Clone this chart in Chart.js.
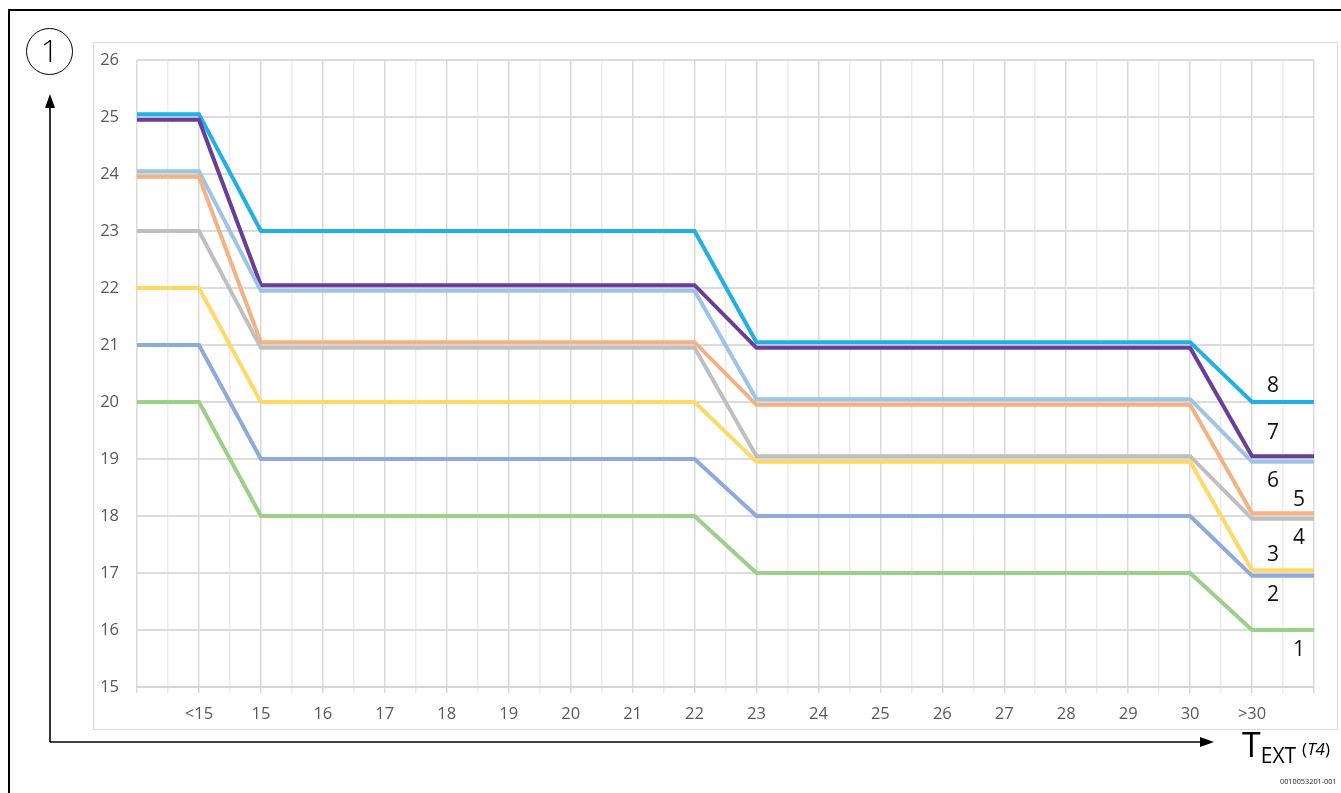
<!DOCTYPE html>
<html>
<head>
<meta charset="utf-8">
<script src="https://cdn.jsdelivr.net/npm/chart.js@4/dist/chart.umd.min.js"></script>
<style>
  html, body { margin: 0; padding: 0; background: #fff; }
  body { width: 1341px; height: 793px; position: relative; overflow: hidden; font-family: "Open Sans", "Noto Sans", sans-serif; }
  #frame-top { position: absolute; left: 8px; top: 9px; width: 1333px; height: 2px; background: #000; }
  #frame-left { position: absolute; left: 8px; top: 9px; width: 2px; height: 784px; background: #000; }
  #box { position: absolute; left: 93px; top: 42px; width: 1243px; height: 686px; border: 1.5px solid #d9d9d9; box-sizing: content-box; }
  #wrap { position: absolute; left: 94px; top: 43px; width: 1244px; height: 686px; }
  svg { position: absolute; left: 0; top: 0; }
  .lbl { position: absolute; font-size: 21px; color: #111; line-height: 1; transform: translate(-50%, -50%); }
  #circ { position: absolute; left: 26px; top: 28px; width: 47px; height: 47px; border: 1.5px solid #000; border-radius: 50%; box-sizing: border-box; text-align: center; font-size: 31px; line-height: 43px; color: #000; font-weight: 300; }
  #text { position: absolute; left: 1242px; top: 721px; color: #000; white-space: nowrap; }
  #text .T { font-size: 34px; }
  #text .sub { font-size: 21px; position: relative; top: 6px; }
  #text .par { font-size: 17px; position: relative; top: -2px; margin-left: 6px; }
  #code { position: absolute; left: 1280px; top: 776px; font-size: 7.3px; color: #222; white-space: nowrap; }
</style>
</head>
<body>
<div id="frame-top"></div>
<div id="frame-left"></div>
<div id="box"></div>
<div id="wrap"><canvas id="c"></canvas></div>
<svg width="1341" height="793">
  <line x1="50" y1="742" x2="50" y2="104" stroke="#000" stroke-width="1.6"/>
  <polygon points="50,94 45,108 55,108" fill="#000"/>
  <line x1="50" y1="742" x2="1202" y2="742" stroke="#000" stroke-width="1.6"/>
  <polygon points="1214,742 1200,737 1200,747" fill="#000"/>
</svg>
<div id="circ">1</div>
<div id="text"><span class="T">T</span><span class="sub">EXT</span><span class="par">(<i>T4</i>)</span></div>
<div id="code">0010053201-001</div>
<div class="lbl" style="left:1273px;top:384px">8</div>
<div class="lbl" style="left:1273px;top:431px">7</div>
<div class="lbl" style="left:1273px;top:479px">6</div>
<div class="lbl" style="left:1299px;top:498px">5</div>
<div class="lbl" style="left:1299px;top:536px">4</div>
<div class="lbl" style="left:1273px;top:553px">3</div>
<div class="lbl" style="left:1273px;top:593px">2</div>
<div class="lbl" style="left:1299px;top:648px">1</div>
<script>
const categories = ['', '<15', '15', '16', '17', '18', '19', '20', '21', '22', '23', '24', '25', '26', '27', '28', '29', '30', '>30', ''];
const yTicks = [15, 16, 17, 18, 19, 20, 21, 22, 23, 24, 25, 26];

const series1 = [20, 20, 18, 18, 18, 18, 18, 18, 18, 18, 17, 17, 17, 17, 17, 17, 17, 17, 16, 16];
const series2 = [21, 21, 19, 19, 19, 19, 19, 19, 19, 19, 18, 18, 18, 18, 18, 18, 18, 18, 16.95, 16.95];
const series3 = [22, 22, 20, 20, 20, 20, 20, 20, 20, 20, 18.95, 18.95, 18.95, 18.95, 18.95, 18.95, 18.95, 18.95, 17.05, 17.05];
const series4 = [23, 23, 20.95, 20.95, 20.95, 20.95, 20.95, 20.95, 20.95, 20.95, 19.05, 19.05, 19.05, 19.05, 19.05, 19.05, 19.05, 19.05, 17.95, 17.95];
const series5 = [23.95, 23.95, 21.05, 21.05, 21.05, 21.05, 21.05, 21.05, 21.05, 21.05, 19.95, 19.95, 19.95, 19.95, 19.95, 19.95, 19.95, 19.95, 18.05, 18.05];
const series6 = [24.05, 24.05, 21.95, 21.95, 21.95, 21.95, 21.95, 21.95, 21.95, 21.95, 20.05, 20.05, 20.05, 20.05, 20.05, 20.05, 20.05, 20.05, 18.95, 18.95];
const series7 = [24.95, 24.95, 22.05, 22.05, 22.05, 22.05, 22.05, 22.05, 22.05, 22.05, 20.95, 20.95, 20.95, 20.95, 20.95, 20.95, 20.95, 20.95, 19.05, 19.05];
const series8 = [25.05, 25.05, 23, 23, 23, 23, 23, 23, 23, 23, 21.05, 21.05, 21.05, 21.05, 21.05, 21.05, 21.05, 21.05, 20, 20];

const seriesNames = ['1', '2', '3', '4', '5', '6', '7', '8'];
const seriesValues = [series1, series2, series3, series4, series5, series6, series7, series8];
const seriesColors = ['#9ccf87', '#8eaadc', '#ffd966', '#bfbfbf', '#f4b183', '#9dc3e6', '#6a3d9a', '#1fb0e6'];

const datasets = seriesValues.map((vals, i) => ({
  label: seriesNames[i],
  data: vals.map((v, j) => ({ x: j, y: v })),
  borderColor: seriesColors[i],
  backgroundColor: seriesColors[i],
  borderWidth: 4,
  pointRadius: 0,
  tension: 0,
  fill: false,
  borderJoinStyle: 'miter'
}));

new Chart(document.getElementById('c'), {
  type: 'line',
  data: { datasets },
  options: {
    responsive: true,
    maintainAspectRatio: false,
    animation: false,
    layout: { padding: { top: 17, right: 24, left: 0, bottom: 0 } },
    plugins: { legend: { display: false }, tooltip: { enabled: false } },
    scales: {
      x: {
        type: 'linear',
        min: 0,
        max: categories.length - 1,
        afterFit: (s) => { s.height = 42; s.paddingLeft = 0; s.paddingRight = 0; },
        afterBuildTicks: (s) => {
          const t = [];
          for (let v = 0; v <= categories.length - 1; v += 0.5) t.push({ value: v });
          s.ticks = t;
        },
        ticks: {
          autoSkip: false,
          maxRotation: 0,
          padding: 11,
          color: '#595959',
          font: { family: '"Open Sans", "Noto Sans", sans-serif', size: 16.5 },
          callback: (v) => Number.isInteger(v) ? categories[v] : ''
        },
        grid: {
          color: (ctx) => (ctx.tick && Number.isInteger(ctx.tick.value)) ? '#dadada' : '#ececec',
          lineWidth: 1.5,
          tickLength: 6,
          drawTicks: true
        },
        border: { display: true, color: '#d6d6d6', width: 2 }
      },
      y: {
        min: 15,
        max: 26,
        afterFit: (s) => { s.width = 43; s.paddingTop = 0; s.paddingBottom = 0; },
        afterBuildTicks: (s) => { s.ticks = yTicks.map(v => ({ value: v })); },
        ticks: {
          padding: 18,
          color: '#595959',
          font: { family: '"Open Sans", "Noto Sans", sans-serif', size: 16.5 }
        },
        grid: { color: '#dcdcdc', lineWidth: 2, drawTicks: false },
        border: { display: false }
      }
    }
  }
});
</script>
</body>
</html>
